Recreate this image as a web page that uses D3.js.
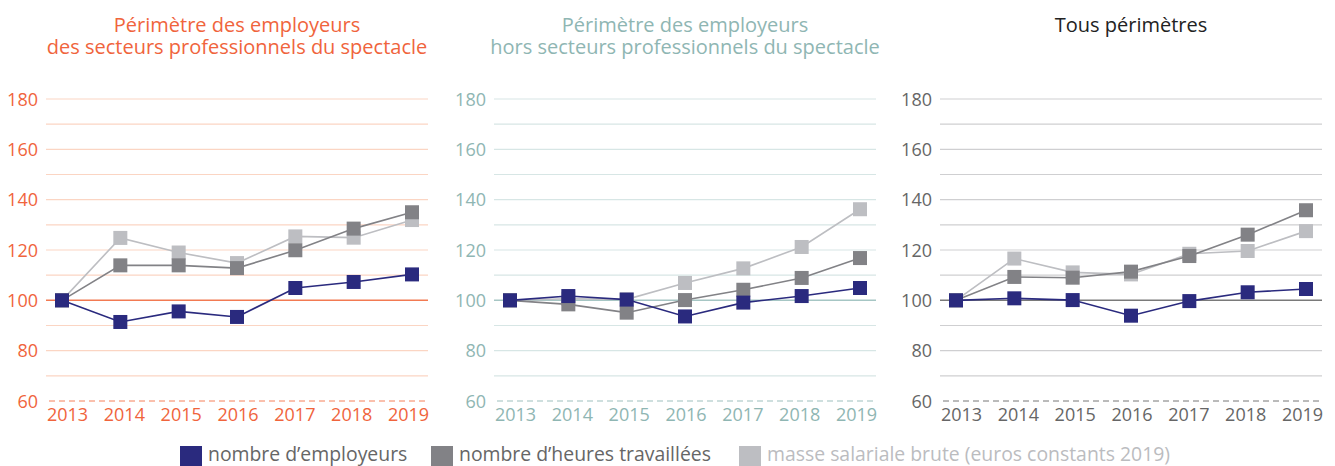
<!DOCTYPE html>
<html>
<head>
<meta charset="utf-8">
<script src="https://cdn.jsdelivr.net/npm/d3@7"></script>
<style>
  body { margin: 0; background: #fff; }
  svg text { font-family: "Open Sans", Roboto, sans-serif; }
</style>
</head>
<body>
<svg id="chart" width="1335" height="466"></svg>
<script>
// years and series
var years = [2013, 2014, 2015, 2016, 2017, 2018, 2019];
var yTicks = [60, 80, 100, 120, 140, 160, 180];
var seriesNames = ["nombre d\u2019employeurs", "nombre d\u2019heures travaill\u00e9es", "masse salariale brute (euros constants 2019)"];

// panel 1 : secteurs professionnels du spectacle
var spEmployeurs = [100, 91.4, 95.6, 93.4, 104.9, 107.3, 110.3];
var spHeures     = [100, 113.9, 113.9, 112.8, 119.9, 128.5, 135.0];
var spMasse      = [100, 124.8, 119.0, 114.8, 125.4, 124.9, 131.9];

// panel 2 : hors secteurs
var hsEmployeurs = [100, 101.7, 100.3, 93.6, 99.1, 101.7, 104.9];
var hsHeures     = [100, 98.4, 95.1, 100.1, 104.2, 108.9, 116.8];
var hsMasse      = [100, 100.6, 100.4, 106.9, 112.7, 121.2, 136.2];

// panel 3 : tous perimetres
var tpEmployeurs = [100, 100.8, 100.1, 93.9, 99.7, 103.2, 104.5];
var tpHeures     = [100, 109.3, 109.0, 111.4, 117.6, 126.1, 135.8];
var tpMasse      = [100, 116.6, 111.1, 110.3, 118.5, 119.6, 127.5];

var seriesColors = ["#2a2a7e", "#828286", "#bdbec2"];

var panels = [
    {title: ["P\u00e9rim\u00e8tre des employeurs", "des secteurs professionnels du spectacle"],
     left: 46, titleColor: "#f0643c", tickColor: "#f0643c", grid: "#fbd5c3", base: "#f27a52", dash: "#f5805a",
     data: [spEmployeurs, spHeures, spMasse]},
    {title: ["P\u00e9rim\u00e8tre des employeurs", "hors secteurs professionnels du spectacle"],
     left: 494, titleColor: "#8fb6b3", tickColor: "#8fb6b3", grid: "#d7e6e5", base: "#a6c6c4", dash: "#9dbfbd",
     data: [hsEmployeurs, hsHeures, hsMasse]},
    {title: ["Tous p\u00e9rim\u00e8tres"],
     left: 940, titleColor: "#222", tickColor: "#666", grid: "#cfcfd1", base: "#7a7a7a", dash: "#777",
     data: [tpEmployeurs, tpHeures, tpMasse]}
];

var svg = d3.select("#chart");
var plotW = 382;

var y = d3.scaleLinear().domain([60, 180]).range([401, 99]);

panels.forEach(function(p) {
    var g = svg.append("g").attr("transform", "translate(" + p.left + ",0)");

    var x = d3.scalePoint().domain(years).range([16, 366]);
    var xLab = d3.scalePoint().domain(years).range([21, 362]);

    // title
    var t = g.append("text")
        .attr("x", plotW / 2)
        .attr("text-anchor", "middle")
        .attr("fill", p.titleColor)
        .style("font-size", "20px");
    p.title.forEach(function(line, i) {
        t.append("tspan").attr("x", plotW / 2).attr("y", 32 + i * 22).text(line);
    });

    // horizontal grid, every 10
    var gridVals = d3.range(70, 181, 10);
    g.selectAll("line.grid").data(gridVals).enter().append("line")
        .attr("class", "grid")
        .attr("x1", 0).attr("x2", plotW)
        .attr("y1", function(d) { return y(d); })
        .attr("y2", function(d) { return y(d); })
        .attr("stroke", function(d) { return d === 100 ? p.base : p.grid; })
        .attr("stroke-width", function(d) { return d === 100 ? 1.5 : 1.2; });

    // 60 baseline dashed
    g.append("line")
        .attr("x1", 3).attr("x2", plotW)
        .attr("y1", y(60)).attr("y2", y(60))
        .attr("stroke", p.dash)
        .attr("stroke-width", 1)
        .attr("stroke-dasharray", "6,4");

    // y axis labels
    var yAxis = d3.axisLeft(y).tickValues(yTicks).tickSize(0).tickPadding(8);
    var ya = g.append("g").call(yAxis);
    ya.select(".domain").remove();
    ya.selectAll("text").attr("fill", p.tickColor).style("font-size", "18px").attr("dy", "0.35em");

    // x axis labels
    var xAxis = d3.axisBottom(xLab).tickSize(0).tickPadding(4).tickFormat(d3.format("d"));
    var xa = g.append("g").attr("transform", "translate(0,404)").call(xAxis);
    xa.select(".domain").remove();
    xa.selectAll("text").attr("fill", p.tickColor).style("font-size", "18px");

    var line = d3.line()
        .x(function(d, i) { return x(years[i]); })
        .y(function(d) { return y(d); });

    // draw light grey first, blue last
    [2, 1, 0].forEach(function(k) {
        var vals = p.data[k];
        g.append("path")
            .datum(vals)
            .attr("d", line)
            .attr("fill", "none")
            .attr("stroke", seriesColors[k])
            .attr("stroke-width", 1.6);
        g.selectAll("rect.s" + k).data(vals).enter().append("rect")
            .attr("class", "s" + k)
            .attr("x", function(d, i) { return x(years[i]) - 7; })
            .attr("y", function(d) { return y(d) - 7; })
            .attr("width", 14).attr("height", 14)
            .attr("fill", seriesColors[k]);
    });
});

// legend
var legendX = [180, 431, 739];
var legendText = ["#666", "#666", "#bbbcbf"];
var leg = svg.append("g");
seriesNames.forEach(function(name, i) {
    leg.append("rect")
        .attr("x", legendX[i]).attr("y", 446)
        .attr("width", 22).attr("height", 22)
        .attr("fill", seriesColors[i]);
    leg.append("text")
        .attr("x", legendX[i] + 28).attr("y", 461)
        .attr("fill", legendText[i])
        .style("font-size", "19.4px")
        .text(name);
});
</script>
</body>
</html>
